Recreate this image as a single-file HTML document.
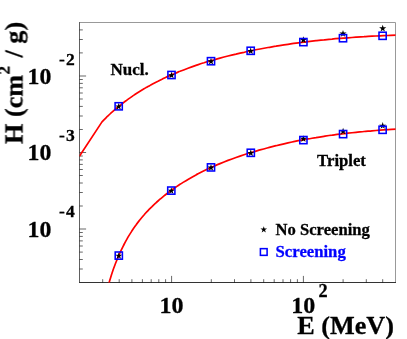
<!DOCTYPE html>
<html><head><meta charset="utf-8"><title>Chart</title>
<style>html,body{margin:0;padding:0;background:#fff;}body{width:407px;height:339px;position:relative;overflow:hidden;font-family:"Liberation Serif",serif;}</style>
</head><body>
<svg width="407" height="339" viewBox="0 0 407 339" style="position:absolute;left:0;top:0">
<path d="M79.5 22.5 H395.5 V282.5" fill="none" stroke="#999" stroke-width="1"/>
<path d="M79.5 22.0 V283.0" fill="none" stroke="#606060" stroke-width="1"/>
<path d="M79.0 282.5 H396.0" fill="none" stroke="#333" stroke-width="1"/>
<path d="M102.7 282.5 v-3.3M119.2 282.5 v-3.3M131.9 282.5 v-3.3M142.4 282.5 v-3.3M151.2 282.5 v-3.3M158.8 282.5 v-3.3M165.6 282.5 v-3.3M171.6 282.5 v-6.6M211.3 282.5 v-3.3M234.5 282.5 v-3.3M250.9 282.5 v-3.3M263.7 282.5 v-3.3M274.2 282.5 v-3.3M283.0 282.5 v-3.3M290.6 282.5 v-3.3M297.4 282.5 v-3.3M303.4 282.5 v-6.6M343.1 282.5 v-3.3M366.3 282.5 v-3.3M382.7 282.5 v-3.3M79.5 269.0 h3.3M79.5 259.5 h3.3M79.5 252.1 h3.3M79.5 246.0 h3.3M79.5 240.9 h3.3M79.5 236.4 h3.3M79.5 232.5 h3.3M79.5 229.0 h6.6M79.5 206.0 h3.3M79.5 192.5 h3.3M79.5 183.0 h3.3M79.5 175.5 h3.3M79.5 169.5 h3.3M79.5 164.4 h3.3M79.5 159.9 h3.3M79.5 156.0 h3.3M79.5 152.5 h6.6M79.5 129.5 h3.3M79.5 116.0 h3.3M79.5 106.4 h3.3M79.5 99.0 h3.3M79.5 93.0 h3.3M79.5 87.8 h3.3M79.5 83.4 h3.3M79.5 79.5 h3.3M79.5 76.0 h6.6M79.5 52.9 h3.3M79.5 39.5 h3.3M79.5 29.9 h3.3" fill="none" stroke="#000" stroke-width="0.6"/>
<clipPath id="c"><rect x="79.5" y="22.5" width="316.0" height="260.0"/></clipPath>
<g clip-path="url(#c)" fill="none" stroke="#ff0000" stroke-width="1.7" stroke-linejoin="round">
<path d="M79.4 156.2 L102.0 121.9C102.7 121.2 104.7 119.1 106.0 117.8C107.3 116.5 108.7 115.3 110.0 114.0C111.3 112.8 112.7 111.6 114.0 110.4C115.3 109.3 116.7 108.1 118.0 107.0C119.3 105.9 120.7 104.9 122.0 103.8C123.3 102.8 124.7 101.7 126.0 100.8C127.3 99.8 128.7 98.8 130.0 97.9C131.3 96.9 132.7 96.0 134.0 95.1C135.3 94.2 136.7 93.4 138.0 92.5C139.3 91.7 140.7 90.8 142.0 90.0C143.3 89.2 144.7 88.4 146.0 87.6C147.3 86.9 148.7 86.1 150.0 85.4C151.3 84.6 152.7 83.9 154.0 83.2C155.3 82.5 156.7 81.8 158.0 81.2C159.3 80.5 160.7 79.8 162.0 79.2C163.3 78.5 164.7 77.9 166.0 77.3C167.3 76.7 168.7 76.1 170.0 75.5C171.3 74.9 172.7 74.3 174.0 73.8C175.3 73.2 177.0 72.5 178.0 72.1C179.0 71.7 178.3 71.9 180.0 71.3C181.7 70.6 185.3 69.2 188.0 68.2C190.7 67.2 193.3 66.3 196.0 65.4C198.7 64.5 201.3 63.6 204.0 62.8C206.7 61.9 209.3 61.1 212.0 60.4C214.7 59.6 217.3 58.8 220.0 58.1C222.7 57.4 225.3 56.7 228.0 56.0C230.7 55.3 233.3 54.7 236.0 54.1C238.7 53.4 241.3 52.8 244.0 52.3C246.7 51.7 249.3 51.1 252.0 50.6C254.7 50.0 257.3 49.5 260.0 49.0C262.7 48.5 265.3 48.0 268.0 47.5C270.7 47.1 273.3 46.6 276.0 46.2C278.7 45.7 281.3 45.3 284.0 44.9C286.7 44.5 289.3 44.1 292.0 43.7C294.7 43.3 297.3 43.0 300.0 42.6C302.7 42.3 305.3 41.9 308.0 41.6C310.7 41.3 313.3 41.0 316.0 40.7C318.7 40.4 321.3 40.1 324.0 39.9C326.7 39.6 329.3 39.3 332.0 39.1C334.7 38.8 337.3 38.6 340.0 38.4C342.7 38.2 345.3 38.0 348.0 37.8C350.7 37.6 353.3 37.4 356.0 37.2C358.7 37.0 361.3 36.8 364.0 36.7C366.7 36.5 369.3 36.4 372.0 36.2C374.7 36.1 377.3 35.9 380.0 35.8C382.7 35.7 385.2 35.6 388.0 35.5C390.8 35.4 395.5 35.2 397.0 35.2"/>
<path d="M108.0 286.2C108.7 284.1 110.7 277.2 112.0 273.2C113.3 269.2 114.7 265.6 116.0 262.2C117.3 258.7 118.7 255.7 120.0 252.7C121.3 249.8 122.7 247.1 124.0 244.5C125.3 241.9 126.7 239.5 128.0 237.2C129.3 234.9 130.7 232.8 132.0 230.8C133.3 228.7 134.7 226.8 136.0 225.0C137.3 223.1 138.7 221.4 140.0 219.7C141.3 218.1 142.7 216.5 144.0 215.0C145.3 213.4 146.7 212.0 148.0 210.6C149.3 209.2 150.7 207.9 152.0 206.6C153.3 205.2 154.7 204.0 156.0 202.8C157.3 201.6 158.7 200.4 160.0 199.2C161.3 198.1 162.7 197.0 164.0 195.9C165.3 194.8 166.7 193.8 168.0 192.8C169.3 191.7 170.7 190.8 172.0 189.8C173.3 188.8 174.7 187.9 176.0 187.0C177.3 186.1 178.0 185.6 180.0 184.3C182.0 183.1 185.3 181.0 188.0 179.4C190.7 177.8 193.3 176.3 196.0 174.9C198.7 173.5 201.3 172.1 204.0 170.8C206.7 169.5 209.3 168.3 212.0 167.1C214.7 165.9 217.3 164.7 220.0 163.6C222.7 162.5 225.3 161.5 228.0 160.4C230.7 159.4 233.3 158.5 236.0 157.5C238.7 156.6 241.3 155.7 244.0 154.8C246.7 153.9 249.3 153.1 252.0 152.3C254.7 151.4 257.3 150.7 260.0 149.9C262.7 149.1 265.3 148.4 268.0 147.7C270.7 147.0 273.3 146.3 276.0 145.7C278.7 145.0 281.3 144.4 284.0 143.8C286.7 143.2 289.3 142.6 292.0 142.0C294.7 141.5 297.3 140.9 300.0 140.4C302.7 139.9 305.3 139.4 308.0 138.9C310.7 138.5 313.3 138.0 316.0 137.6C318.7 137.1 321.3 136.7 324.0 136.3C326.7 135.9 329.3 135.5 332.0 135.2C334.7 134.8 337.3 134.4 340.0 134.1C342.7 133.8 345.3 133.5 348.0 133.2C350.7 132.9 353.3 132.6 356.0 132.3C358.7 132.0 361.3 131.8 364.0 131.5C366.7 131.3 369.3 131.0 372.0 130.8C374.7 130.6 377.3 130.4 380.0 130.2C382.7 130.0 385.2 129.8 388.0 129.6C390.8 129.5 395.5 129.2 397.0 129.1"/>
</g>
<polygon points="118.70,102.85 119.54,105.44 122.27,105.44 120.06,107.04 120.90,109.63 118.70,108.03 116.50,109.63 117.34,107.04 115.13,105.44 117.86,105.44" fill="#000"/>
<polygon points="171.50,71.55 172.34,74.14 175.07,74.14 172.86,75.74 173.70,78.33 171.50,76.73 169.30,78.33 170.14,75.74 167.93,74.14 170.66,74.14" fill="#000"/>
<polygon points="211.00,57.75 211.84,60.34 214.57,60.34 212.36,61.94 213.20,64.53 211.00,62.93 208.80,64.53 209.64,61.94 207.43,60.34 210.16,60.34" fill="#000"/>
<polygon points="250.70,47.35 251.54,49.94 254.27,49.94 252.06,51.54 252.90,54.13 250.70,52.53 248.50,54.13 249.34,51.54 247.13,49.94 249.86,49.94" fill="#000"/>
<polygon points="303.40,36.25 304.24,38.84 306.97,38.84 304.76,40.44 305.60,43.03 303.40,41.43 301.20,43.03 302.04,40.44 299.83,38.84 302.56,38.84" fill="#000"/>
<polygon points="343.00,29.95 343.84,32.54 346.57,32.54 344.36,34.14 345.20,36.73 343.00,35.13 340.80,36.73 341.64,34.14 339.43,32.54 342.16,32.54" fill="#000"/>
<polygon points="382.70,24.75 383.54,27.34 386.27,27.34 384.06,28.94 384.90,31.53 382.70,29.93 380.50,31.53 381.34,28.94 379.13,27.34 381.86,27.34" fill="#000"/>
<polygon points="118.80,252.15 119.64,254.74 122.37,254.74 120.16,256.34 121.00,258.93 118.80,257.33 116.60,258.93 117.44,256.34 115.23,254.74 117.96,254.74" fill="#000"/>
<polygon points="171.30,187.15 172.14,189.74 174.87,189.74 172.66,191.34 173.50,193.93 171.30,192.33 169.10,193.93 169.94,191.34 167.73,189.74 170.46,189.74" fill="#000"/>
<polygon points="211.00,163.95 211.84,166.54 214.57,166.54 212.36,168.14 213.20,170.73 211.00,169.13 208.80,170.73 209.64,168.14 207.43,166.54 210.16,166.54" fill="#000"/>
<polygon points="250.80,149.35 251.64,151.94 254.37,151.94 252.16,153.54 253.00,156.13 250.80,154.53 248.60,156.13 249.44,153.54 247.23,151.94 249.96,151.94" fill="#000"/>
<polygon points="303.40,135.15 304.24,137.74 306.97,137.74 304.76,139.34 305.60,141.93 303.40,140.33 301.20,141.93 302.04,139.34 299.83,137.74 302.56,137.74" fill="#000"/>
<polygon points="343.10,127.65 343.94,130.24 346.67,130.24 344.46,131.84 345.30,134.43 343.10,132.83 340.90,134.43 341.74,131.84 339.53,130.24 342.26,130.24" fill="#000"/>
<polygon points="382.70,122.05 383.54,124.64 386.27,124.64 384.06,126.24 384.90,128.83 382.70,127.23 380.50,128.83 381.34,126.24 379.13,124.64 381.86,124.64" fill="#000"/>
<rect x="115.10" y="102.70" width="7.20" height="7.20" fill="none" stroke="#0000ff" stroke-width="1.55"/>
<rect x="167.90" y="71.40" width="7.20" height="7.20" fill="none" stroke="#0000ff" stroke-width="1.55"/>
<rect x="207.40" y="57.60" width="7.20" height="7.20" fill="none" stroke="#0000ff" stroke-width="1.55"/>
<rect x="247.10" y="47.20" width="7.20" height="7.20" fill="none" stroke="#0000ff" stroke-width="1.55"/>
<rect x="299.80" y="38.50" width="7.20" height="7.20" fill="none" stroke="#0000ff" stroke-width="1.55"/>
<rect x="339.40" y="34.60" width="7.20" height="7.20" fill="none" stroke="#0000ff" stroke-width="1.55"/>
<rect x="379.00" y="32.20" width="7.20" height="7.20" fill="none" stroke="#0000ff" stroke-width="1.55"/>
<rect x="115.20" y="252.00" width="7.20" height="7.20" fill="none" stroke="#0000ff" stroke-width="1.55"/>
<rect x="167.70" y="187.00" width="7.20" height="7.20" fill="none" stroke="#0000ff" stroke-width="1.55"/>
<rect x="207.40" y="163.80" width="7.20" height="7.20" fill="none" stroke="#0000ff" stroke-width="1.55"/>
<rect x="247.20" y="149.20" width="7.20" height="7.20" fill="none" stroke="#0000ff" stroke-width="1.55"/>
<rect x="299.80" y="136.50" width="7.20" height="7.20" fill="none" stroke="#0000ff" stroke-width="1.55"/>
<rect x="339.50" y="130.50" width="7.20" height="7.20" fill="none" stroke="#0000ff" stroke-width="1.55"/>
<rect x="379.00" y="126.20" width="7.20" height="7.20" fill="none" stroke="#0000ff" stroke-width="1.55"/>
<polygon points="263.75,226.20 264.54,228.62 267.08,228.62 265.02,230.11 265.81,232.53 263.75,231.04 261.69,232.53 262.48,230.11 260.42,228.62 262.96,228.62" fill="#000"/>
<rect x="260.40" y="248.65" width="6.70" height="6.70" fill="none" stroke="#0000ff" stroke-width="1.55"/>
<g font-family="'Liberation Serif', serif" font-weight="bold" opacity="0.999" stroke-width="0.3">
<text x="110.5" y="74.6" font-size="17.0" fill="#000" stroke="#000">Nucl.</text>
<text x="317.1" y="165.8" font-size="16.7" fill="#000" stroke="#000">Triplet</text>
<text x="275.6" y="234.9" font-size="16.6" fill="#000" stroke="#000">No Screening</text>
<text x="275.6" y="257.1" font-size="16.7" fill="#0000ff" stroke="#0000ff">Screening</text>
<text x="27.6" y="83.5" font-size="23.8" fill="#000" stroke="#000">10</text>
<text x="59.0" y="64.5" font-size="17.5" fill="#000" stroke="#000">-</text>
<text x="66.0" y="64.5" font-size="17.5" fill="#000" stroke="#000">2</text>
<text x="27.6" y="160.0" font-size="23.8" fill="#000" stroke="#000">10</text>
<text x="59.0" y="141.0" font-size="17.5" fill="#000" stroke="#000">-</text>
<text x="66.0" y="141.0" font-size="17.5" fill="#000" stroke="#000">3</text>
<text x="27.6" y="236.5" font-size="23.8" fill="#000" stroke="#000">10</text>
<text x="59.0" y="216.8" font-size="17.5" fill="#000" stroke="#000">-</text>
<text x="66.0" y="216.8" font-size="17.5" fill="#000" stroke="#000">4</text>
<text x="159.4" y="313.0" font-size="24.0" fill="#000" stroke="#000">10</text>
<text x="291.3" y="312.7" font-size="24.0" fill="#000" stroke="#000">10</text>
<text x="318.6" y="297.1" font-size="18.3" fill="#000" stroke="#000">2</text>
<text x="297.3" y="333.6" font-size="26.2" fill="#000" stroke="#000">E (MeV)</text>
<text transform="translate(22.5,144) rotate(-90)" font-size="26.2" fill="#000" stroke="#000">H (cm<tspan font-size="17" dy="-13" dx="0.3">2</tspan><tspan dy="13" dx="2.1"> / g)</tspan></text>
</g>
</svg>
</body></html>
